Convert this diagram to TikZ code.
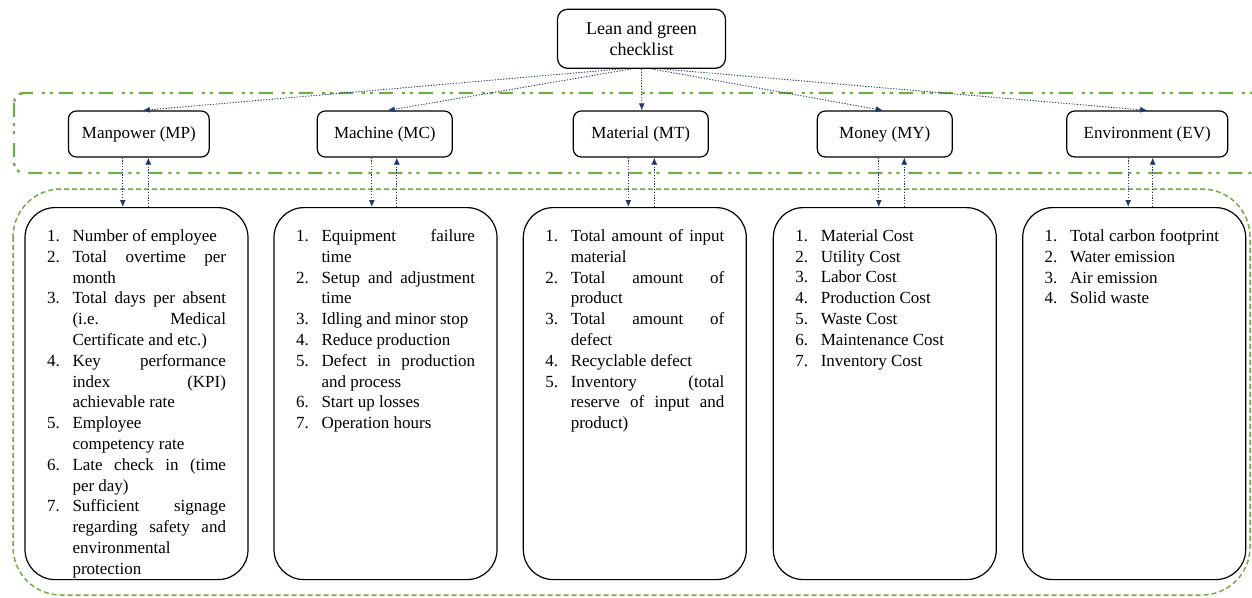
\documentclass[tikz,border=0pt]{standalone}
\usepackage{fontspec}
\setmainfont{Liberation Serif}
\usepackage{xcolor}
\usetikzlibrary{arrows.meta, positioning}

\definecolor{linkblue}{RGB}{31,56,100}
\definecolor{leangreen}{RGB}{112,173,71}

\newcommand{\checklabel}[1]{#1\hfil}
\newenvironment{checkitems}{\begin{list}{\arabic{enumi}.}{\usecounter{enumi}\setlength{\leftmargin}{25.5pt}\setlength{\labelwidth}{25.5pt}\setlength{\labelsep}{0pt}\setlength{\itemsep}{0pt}\setlength{\parsep}{0pt}\setlength{\topsep}{0pt}\setlength{\partopsep}{0pt}\let\makelabel\checklabel}}{\end{list}}
\newcommand{\itembox}[1]{\begin{minipage}[t][328pt][t]{179pt}\hyphenpenalty=10000\frenchspacing\sloppy\begin{checkitems}#1\end{checkitems}\end{minipage}}

\tikzset{
    topbox/.style={draw, line width=1.2pt, rounded corners=10pt, minimum width=168pt, minimum height=59pt, align=center, font=\fontsize{18}{21}\selectfont},
    catbox/.style={draw, line width=1.2pt, rounded corners=8pt, minimum width=135pt, minimum height=46pt, inner xsep=13.5pt, font=\fontsize{17}{20}\selectfont},
    listbox/.style={draw, line width=1.2pt, rounded corners=30pt, anchor=north, inner xsep=22pt, inner ysep=22pt, font=\fontsize{17}{20.8}\selectfont},
    link/.style={draw=linkblue, line width=0.9pt, dash pattern=on 1.2pt off 1.6pt, -{Latex[length=7pt,width=6pt]}},
    groupframe/.style={draw=leangreen, line width=2.4pt, rounded corners=10pt, dash pattern=on 14pt off 6pt on 3pt off 5pt on 3pt off 9pt},
    listframe/.style={draw=leangreen, line width=1.5pt, rounded corners=48pt, dash pattern=on 5pt off 3pt}
}

\begin{document}
\begin{tikzpicture}[x=1pt, y=-1pt]
    \useasboundingbox (0,0) rectangle (1252,597);
    \clip (0,0) rectangle (1252,597);

    % green frames
    \draw[groupframe] (14,93) rectangle (1275,173);
    \draw[listframe] (13,189) rectangle (1250,595);

    \node[topbox] (top) at (641.5,38.8) {Lean and green\\checklist};

    \node[catbox] (mp) at (138.8,134) {Manpower (MP)};
    \node[catbox] (mc) at (384.8,134) {Machine (MC)};
    \node[catbox] (mt) at (640.8,134) {Material (MT)};
    \node[catbox] (my) at (884.8,134) {Money (MY)};
    \node[catbox, minimum width=161pt] (ev) at (1147.2,134) {Environment (EV)};

    \node[listbox] (mpList) at (136.5,207) {\itembox{
        \item Number of employee
        \item Total overtime per\linebreak month
        \item Total days per absent\linebreak (i.e. Medical\linebreak Certificate and etc.)
        \item Key performance\linebreak index (KPI)\linebreak achievable rate
        \item Employee\linebreak competency rate
        \item Late check in (time\linebreak per day)
        \item Sufficient signage\linebreak regarding safety and\linebreak environmental\linebreak protection}};
    \node[listbox] (mcList) at (385.5,207) {\itembox{
        \item Equipment failure\linebreak time
        \item Setup and adjustment\linebreak time
        \item Idling and minor stop
        \item Reduce production
        \item Defect in production\linebreak and process
        \item Start up losses
        \item Operation hours}};
    \node[listbox] (mtList) at (634.8,207) {\itembox{
        \item Total amount of input\linebreak material
        \item Total amount of\linebreak product
        \item Total amount of\linebreak defect
        \item Recyclable defect
        \item Inventory (total\linebreak reserve of input and\linebreak product)}};
    \node[listbox] (myList) at (884.8,207) {\itembox{
        \item Material Cost
        \item Utility Cost
        \item Labor Cost
        \item Production Cost
        \item Waste Cost
        \item Maintenance Cost
        \item Inventory Cost}};
    \node[listbox] (evList) at (1134.2,207) {\itembox{
        \item Total carbon footprint
        \item Water emission
        \item Air emission
        \item Solid waste}};

    % checklist to categories
    \draw[link] ([xshift=-20pt]top.south) -- ([xshift=4pt]mp.north);
    \draw[link] ([xshift=-10pt]top.south) -- ([xshift=3pt]mc.north);
    \draw[link] (top.south) -- ([xshift=1pt]mt.north);
    \draw[link] ([xshift=10pt]top.south) -- ([xshift=-2pt]my.north);
    \draw[link] ([xshift=20pt]top.south) -- (ev.north);

    % categories to lists and back
    \draw[link] ([xshift=-16pt]mp.south) -- ([xshift=-16pt]mp.south |- mpList.north);
    \draw[link] ([xshift=9.5pt]mp.south |- mpList.north) -- ([xshift=9.5pt]mp.south);
    \draw[link] ([xshift=-13pt]mc.south) -- ([xshift=-13pt]mc.south |- mcList.north);
    \draw[link] ([xshift=12pt]mc.south |- mcList.north) -- ([xshift=12pt]mc.south);
    \draw[link] ([xshift=-12.5pt]mt.south) -- ([xshift=-12.5pt]mt.south |- mtList.north);
    \draw[link] ([xshift=13.5pt]mt.south |- mtList.north) -- ([xshift=13.5pt]mt.south);
    \draw[link] ([xshift=-6pt]my.south) -- ([xshift=-6pt]my.south |- myList.north);
    \draw[link] ([xshift=19.5pt]my.south |- myList.north) -- ([xshift=19.5pt]my.south);
    \draw[link] ([xshift=-19pt]ev.south) -- ([xshift=-19pt]ev.south |- evList.north);
    \draw[link] ([xshift=5.5pt]ev.south |- evList.north) -- ([xshift=5.5pt]ev.south);
\end{tikzpicture}
\end{document}
